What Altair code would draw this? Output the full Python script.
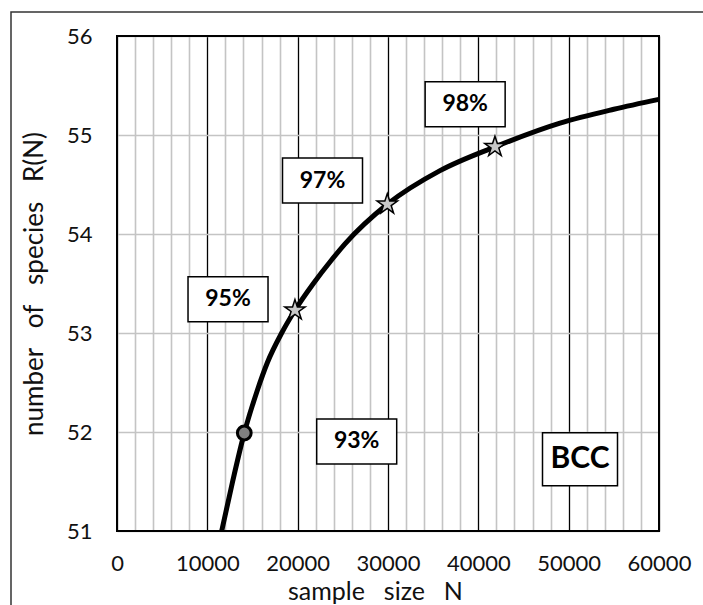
import altair as alt
import pandas as pd

# Rarefaction curve: expected number of species R(N) against sample size N
curve_n = [11590, 12800, 14090, 15530, 16640, 18230, 19700, 21740, 23770,
           25240, 29920, 35760, 41840, 49040, 55000, 60000]
curve_r = [51.0, 51.5, 51.99, 52.42, 52.70, 53.0, 53.23, 53.50, 53.74,
           53.90, 54.30, 54.64, 54.88, 55.12, 55.26, 55.36]

# Highlighted points on the curve
dot_n = [14090]
dot_r = [51.99]
star_n = [19700, 29920, 41840]
star_r = [53.23, 54.30, 54.88]

# Boxed coverage labels (centre of each box in data units)
label_text = ["95%", "93%", "97%", "98%"]
label_n = [12290, 26535, 22750, 38540]
label_r = [53.34, 51.905, 54.54, 55.31]

tag_text = ["BCC"]
tag_n = [51255]
tag_r = [51.726]

x_ticks = list(range(0, 60001, 2000))
y_ticks = [51, 52, 53, 54, 55, 56]

FONT = "Lato"
W, H = 542, 495
GAP = "\u2002\u00a0"

STAR = ("M0,-1L0.2245,-0.309L0.9511,-0.309L0.3633,0.118L0.5878,0.809"
        "L0,0.382L-0.5878,0.809L-0.3633,0.118L-0.9511,-0.309L-0.2245,-0.309Z")

curve_df = pd.DataFrame({"N": curve_n, "R": curve_r})
dot_df = pd.DataFrame({"N": dot_n, "R": dot_r})
star_df = pd.DataFrame({"N": star_n, "R": star_r})
label_df = pd.DataFrame({"N": label_n, "R": label_r, "text": label_text})
tag_df = pd.DataFrame({"N": tag_n, "R": tag_r, "text": tag_text})

xscale = alt.Scale(domain=[0, 60000], nice=False, zero=False)
yscale = alt.Scale(domain=[51, 56], nice=False, zero=False)

label_style = dict(labelFont=FONT, labelFontSize=22, labelColor="#111")
title_style = dict(titleFont=FONT, titleFontWeight="normal", titleColor="#111")

x_axis = alt.Axis(
    values=x_ticks,
    format="d",
    labelExpr="datum.value % 10000 === 0 ? datum.label : ''",
    labelOverlap=False, labelFlush=False,
    labelPadding=32, labelBaseline="middle",
    ticks=False, domain=False,
    grid=True,
    gridColor={"condition": {"test": "datum.value % 10000 === 0", "value": "#000000"},
               "value": "#c4c4c4"},
    gridWidth={"condition": {"test": "datum.value % 10000 === 0", "value": 1.3},
               "value": 1.6},
    title=f"sample{GAP}size{GAP}N",
    titleFontSize=25,
    titleX=258, titleY=60, titleBaseline="middle", titleAlign="center",
    **label_style, **title_style,
)
y_axis = alt.Axis(
    values=y_ticks,
    labelPadding=25, labelFlush=False,
    ticks=False, domain=False,
    grid=True, gridColor="#c4c4c4", gridWidth=1.6,
    title=f"number{GAP}of{GAP}species{GAP}R(N)",
    titleFontSize=26,
    titleX=-83, titleY=H / 2, titleBaseline="middle", titleAngle=270,
    **label_style, **title_style,
)

X = alt.X("N:Q", scale=xscale, axis=x_axis)
Y = alt.Y("R:Q", scale=yscale, axis=y_axis)

# Frame around the whole figure
outer = alt.Chart(pd.DataFrame({"k": [0]})).mark_rect(
    fill="white", fillOpacity=0, stroke="#333", strokeWidth=1.5
).encode(x=alt.value(-106), x2=alt.value(620), y=alt.value(-24), y2=alt.value(600))

line = alt.Chart(curve_df).mark_line(
    color="black", strokeWidth=5, interpolate="monotone"
).encode(x=X, y=Y)

boxes = alt.Chart(label_df).mark_rect(
    fill="white", stroke="black", strokeWidth=1.5,
    xOffset=-40, x2Offset=40, yOffset=-22.5, y2Offset=22.5,
).encode(x=X, y=Y, x2="N:Q", y2="R:Q")

texts = alt.Chart(label_df).mark_text(
    font=FONT, fontSize=23, fontWeight="bold", color="black", baseline="middle"
).encode(x=X, y=Y, text="text:N")

tag_box = alt.Chart(tag_df).mark_rect(
    fill="white", stroke="black", strokeWidth=1.5,
    xOffset=-37.5, x2Offset=37.5, yOffset=-26.5, y2Offset=26.5,
).encode(x=X, y=Y, x2="N:Q", y2="R:Q")

tag_text_mark = alt.Chart(tag_df).mark_text(
    font=FONT, fontSize=30, fontWeight="bold", color="black", baseline="middle"
).encode(x=X, y=Y, text="text:N")

dots = alt.Chart(dot_df).mark_point(
    shape="circle", size=190, filled=True, fill="#7f7f7f",
    stroke="black", strokeWidth=3, opacity=1
).encode(x=X, y=Y)

stars = alt.Chart(star_df).mark_point(
    shape=STAR, size=460, filled=True, fill="#c8c8c8",
    stroke="black", strokeWidth=1.5, opacity=1
).encode(x=X, y=Y)

# Plot-area border drawn on top of the gridlines
frame = alt.Chart(pd.DataFrame({"k": [0]})).mark_rect(
    fill="white", fillOpacity=0, stroke="black", strokeWidth=2
).encode(x=alt.value(0), x2=alt.value(W), y=alt.value(0), y2=alt.value(H))

chart = alt.layer(
    line, outer, boxes, texts, tag_box, tag_text_mark, dots, stars, frame
).properties(
    width=W, height=H,
    background="white",
    autosize=alt.AutoSizeParams(type="none"),
    padding={"left": 117, "top": 36, "right": 44, "bottom": 74},
).configure_view(stroke=None)

chart.save("out.html", embed_options={"renderer": "svg", "actions": False})
